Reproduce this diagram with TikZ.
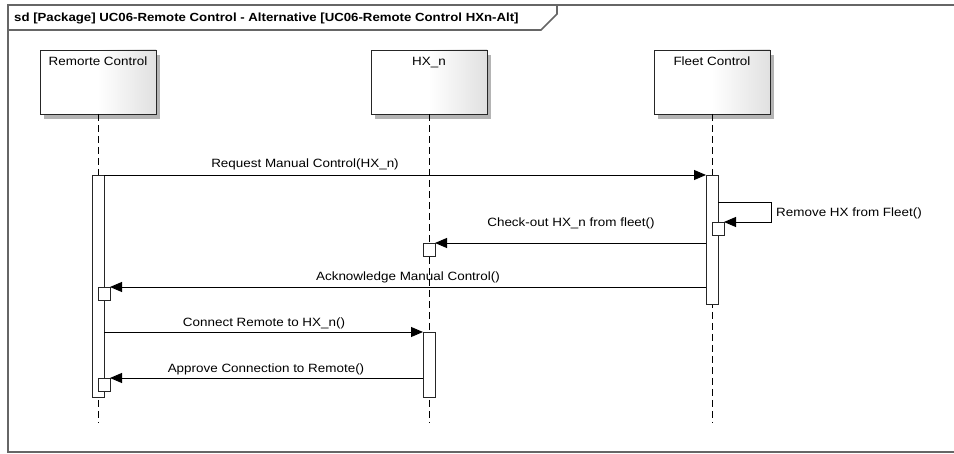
\documentclass[tikz,border=0pt]{standalone}
\usepackage{fontspec}
\setmainfont{Liberation Sans}[FakeStretch=1.12]
\usetikzlibrary{arrows.meta}

\definecolor{framegray}{HTML}{666666}
\definecolor{shadowgray}{HTML}{B4B4B4}

\tikzset{
  frameline/.style={draw=framegray, line width=1.6pt},
  headbox/.style={draw=black!85, line width=0.9pt, minimum width=116pt, minimum height=64pt,
    inner sep=0pt, outer sep=0pt, anchor=north,
    left color=white, right color=black!12, middle color=white},
  headshadow/.style={fill=shadowgray, draw=none},
  headlabel/.style={font=\fontsize{12pt}{14pt}\selectfont, anchor=base, inner sep=0pt},
  lifeline/.style={draw=black, line width=0.9pt, dash pattern=on 7pt off 4pt},
  actbar/.style={draw=black!85, fill=white, line width=0.9pt, minimum width=12pt,
    inner sep=0pt, outer sep=0pt, anchor=north west},
  nestbox/.style={actbar, minimum height=13pt},
  msg/.style={draw=black, line width=0.9pt, -{Triangle[length=12pt,width=10pt]}},
  msglabel/.style={font=\fontsize{12pt}{14pt}\selectfont, inner sep=0pt}
}

\begin{document}
\begin{tikzpicture}[x=1pt,y=-1pt]
  \useasboundingbox (0,0) rectangle (954,454);
  \fill[white] (0,0) rectangle (954,454);

  % diagram frame with its name tab
  \begin{scope}
    \clip (0,0) rectangle (954,454);
    \draw[frameline] (8,5) rectangle (980,452);
    \draw[frameline] (8,30) -- (541,30) -- (557,14) -- (557,5);
  \end{scope}
  \node[anchor=base west, inner sep=0pt, font=\bfseries\fontsize{11.8pt}{14pt}\selectfont]
    (title) at (14,22) {sd [Package] UC06-Remote Control - Alternative [UC06-Remote Control HXn-Alt]};

  % lifeline heads
  \foreach \nm/\cx in {rc/98, hx/429, fc/712} {
    \fill[headshadow] (\cx-54,55) rectangle (\cx+62,119);
    \node[headbox] (\nm) at (\cx,50) {};
  }
  \node[headlabel] (rclab) at (98,66) {Remorte Control};
  \node[headlabel] (hxlab) at (429,66) {HX\_n};
  \node[headlabel] (fclab) at (712,66) {Fleet Control};

  % lifelines
  \coordinate (rcend) at (98,423);
  \coordinate (hxend) at (429,423);
  \coordinate (fcend) at (712,423);
  \draw[lifeline] (rc.south) -- (rcend);
  \draw[lifeline] (hx.south) -- (hxend);
  \draw[lifeline] (fc.south) -- (fcend);

  % execution occurrences
  \node[actbar, minimum height=222pt] (ra) at (92,175) {};
  \node[actbar, minimum height=129pt] (fa) at (706,175) {};
  \node[actbar, minimum height=65pt]  (ha) at (423,332) {};
  \node[nestbox] (fs)  at (712,222) {};
  \node[nestbox] (hs)  at (423,243) {};
  \node[nestbox] (rs1) at (98,287) {};
  \node[nestbox] (rs2) at (98,378) {};

  % messages
  \draw[msg] (ra.north east) -- (fa.north west);
  \node[msglabel, anchor=base] (m1) at (305,168) {Request Manual Control(HX\_n)};

  \coordinate (selfa) at (fa.east |- 0,202);
  \coordinate (selfb) at (771,202);
  \draw[msg] (selfa) -- (selfb) -- (selfb |- fs.north east) -- (fs.north east);
  \node[msglabel, anchor=base west] (m2) at (776,217) {Remove HX from Fleet()};

  \draw[msg] (fa.west |- hs.north east) -- (hs.north east);
  \node[msglabel, anchor=base] (m3) at (571,227) {Check-out HX\_n from fleet()};

  \draw[msg] (fa.west |- rs1.north east) -- (rs1.north east);
  \node[msglabel, anchor=base] (m4) at (408,281) {Acknowledge Manual Control()};

  \draw[msg] (ra.east |- ha.north west) -- (ha.north west);
  \node[msglabel, anchor=base] (m5) at (264,327) {Connect Remote to HX\_n()};

  \draw[msg] (ha.west |- rs2.north east) -- (rs2.north east);
  \node[msglabel, anchor=base] (m6) at (266,373) {Approve Connection to Remote()};
\end{tikzpicture}
\end{document}
